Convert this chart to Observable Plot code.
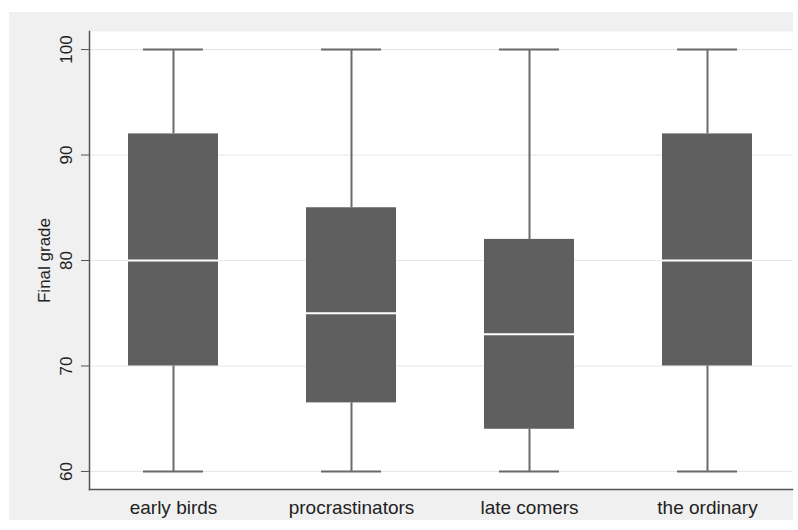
<!DOCTYPE html>
<html>
<head>
<meta charset="utf-8">
<script src="https://cdn.jsdelivr.net/npm/d3@7"></script>
<script src="https://cdn.jsdelivr.net/npm/@observablehq/plot@0.6"></script>
<style>
  html, body { margin: 0; padding: 0; background: #ffffff; }
  #bg { position: absolute; left: 9px; top: 12px; width: 784px; height: 508px; background: #f0f0f0; }
  #chart { position: absolute; left: 0; top: 0; }
  svg { font-family: "Liberation Sans", Arial, sans-serif; }
  g[aria-label="y-axis label"] text { font-size: 17px; }
</style>
</head>
<body>
<div id="bg"></div>
<div id="chart"></div>
<script>
const categories = ["early birds", "procrastinators", "late comers", "the ordinary"];
const lowerWhisker = [60, 60, 60, 60];
const q1 = [70, 66.5, 64, 70];
const median = [80, 75, 73, 80];
const q3 = [92, 85, 82, 92];
const upperWhisker = [100, 100, 100, 100];
const yTicks = [60, 70, 80, 90, 100];

const data = categories.map((c, i) => ({
  group: c, lo: lowerWhisker[i], q1: q1[i], med: median[i], q3: q3[i], hi: upperWhisker[i]
}));

const chart = Plot.plot({
  width: 798,
  height: 530,
  marginLeft: 89,
  marginRight: 6,
  marginTop: 31,
  marginBottom: 41,
  style: { background: "transparent", fontFamily: "Liberation Sans, Arial, sans-serif" },
  x: { type: "band", domain: categories, paddingInner: 0.494, paddingOuter: 0.22, label: null },
  y: { domain: [58.29, 101.71], label: null },
  marks: [
    Plot.frame({ fill: "white", stroke: "none" }),
    Plot.gridY(yTicks, { stroke: "#e8e8e8", strokeOpacity: 1, strokeWidth: 1.2 }),
    Plot.ruleX(data, { x: "group", y1: "lo", y2: "q1", stroke: "#6a6a6a", strokeWidth: 2 }),
    Plot.ruleX(data, { x: "group", y1: "q3", y2: "hi", stroke: "#6a6a6a", strokeWidth: 2 }),
    Plot.tickY(data, { x: "group", y: "lo", stroke: "#6a6a6a", strokeWidth: 2, insetLeft: 15, insetRight: 15 }),
    Plot.tickY(data, { x: "group", y: "hi", stroke: "#6a6a6a", strokeWidth: 2, insetLeft: 15, insetRight: 15 }),
    Plot.barY(data, { x: "group", y1: "q1", y2: "q3", fill: "#5f5f5f" }),
    Plot.tickY(data, { x: "group", y: "med", stroke: "#ffffff", strokeWidth: 2 }),
    Plot.frame({ anchor: "left", stroke: "#555555", strokeWidth: 1.5 }),
    Plot.frame({ anchor: "bottom", stroke: "#555555", strokeWidth: 1.5 }),
    Plot.axisY({
      ticks: yTicks, tickSize: 8, tickPadding: 10, tickRotate: -90,
      fontSize: 17, stroke: "#555555", color: "#222222",
      label: "Final grade", labelAnchor: "center", labelArrow: "none", labelOffset: 52
    }),
    Plot.axisX({ tickSize: 0, tickPadding: 11, fontSize: 19, color: "#222222", label: null })
  ]
});
document.getElementById("chart").appendChild(chart);
</script>
</body>
</html>
